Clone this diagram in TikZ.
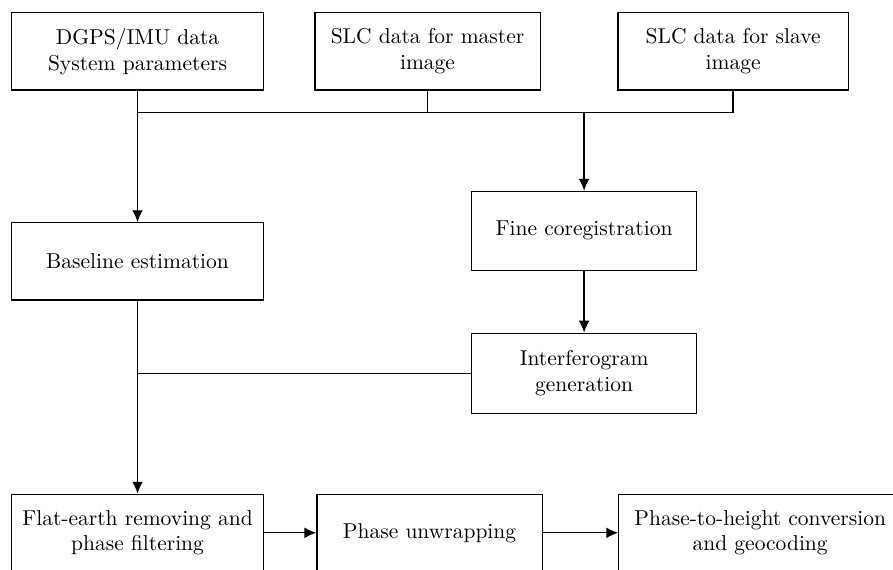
\documentclass[tikz,border=0pt]{standalone}
\usetikzlibrary{arrows.meta}
\tikzset{
  blk/.style={draw, semithick, align=center, minimum height=1.26cm, inner sep=2pt},
  wideblk/.style={blk, minimum width=4.12cm},
  narrowblk/.style={blk, minimum width=3.68cm},
  flow/.style={semithick, -{Latex[length=5.5pt,width=5pt]}}
}
\begin{document}
\begin{tikzpicture}
\useasboundingbox (0,0) rectangle (14.59,9.31);
% top row
\node[wideblk] (gps) at (2.247,8.472) {DGPS/IMU data\\System parameters};
\node[narrowblk] (master) at (6.985,8.472) {SLC data for master\\image};
\node[blk, minimum width=3.76cm] (slave) at (11.977,8.472) {SLC data for slave\\image};
% middle
\node[wideblk] (base) at (2.247,5.041) {Baseline estimation};
\node[narrowblk, minimum height=1.29cm] (fine) at (9.543,5.539) {Fine coregistration};
\node[narrowblk, minimum height=1.31cm] (interf) at (9.543,3.211) {Interferogram\\generation};
% bottom row
\node[wideblk] (flat) at (2.247,0.605) {Flat-earth removing and\\phase filtering};
\node[narrowblk] (unwrap) at (7.018,0.605) {Phase unwrapping};
\node[blk, minimum width=4.62cm] (ph2h) at (12.42,0.605) {Phase-to-height conversion\\and geocoding};
\coordinate (bus) at (9.543,7.467);
% connectors
\draw[semithick] (master.south) -- (master.south |- bus);
\draw[semithick] (slave.south) -- (slave.south |- bus);
\draw[semithick] (gps.south |- bus) -- (slave.south |- bus);
\draw[flow] (gps) -- (base);
\draw[flow] (bus) -- (fine);
\draw[flow] (fine) -- (interf);
\draw[semithick] (interf.west) -- (interf.west -| base.south);
\draw[flow] (base) -- (flat);
\draw[flow] (flat) -- (unwrap);
\draw[flow] (unwrap) -- (ph2h);
\end{tikzpicture}
\end{document}
